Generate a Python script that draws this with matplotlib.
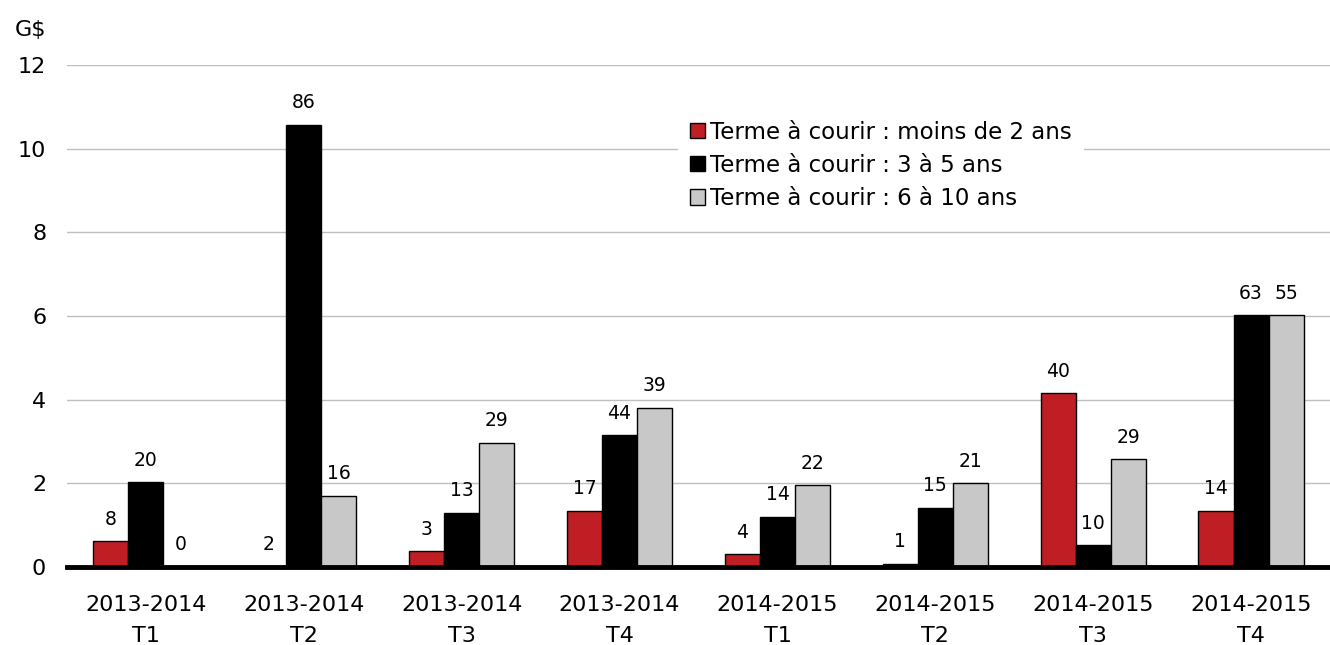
import numpy as np
import matplotlib.pyplot as plt

plt.rcParams['font.family'] = ['DejaVu Sans']

categories = ["2013-2014\nT1", "2013-2014\nT2", "2013-2014\nT3", "2013-2014\nT4",
              "2014-2015\nT1", "2014-2015\nT2", "2014-2015\nT3", "2014-2015\nT4"]

# montants en G$
court = [0.62, 0.02, 0.38, 1.35, 0.30, 0.08, 4.15, 1.35]
moyen = [2.03, 10.57, 1.30, 3.15, 1.20, 1.42, 0.52, 6.02]
long_ = [0.0, 1.70, 2.97, 3.80, 1.95, 2.00, 2.57, 6.02]

# etiquettes au-dessus des barres
lab_court = [8, 2, 3, 17, 4, 1, 40, 14]
lab_moyen = [20, 86, 13, 44, 14, 15, 10, 63]
lab_long = [0, 16, 29, 39, 22, 21, 29, 55]

series = [
    (court, lab_court, "#be1e24", "Terme à courir : moins de 2 ans"),
    (moyen, lab_moyen, "#000000", "Terme à courir : 3 à 5 ans"),
    (long_, lab_long, "#c8c8c8", "Terme à courir : 6 à 10 ans"),
]

fig = plt.figure(figsize=(13.3, 6.45), dpi=100)
ax = fig.add_axes([67/1330, 1 - 567/645, 1263/1330, (567-65)/645])

x = np.arange(len(categories))
w = 0.222
for i, (vals, labs, col, name) in enumerate(series):
    pos = x + (i - 1) * w
    ax.bar(pos, vals, w, color=col, edgecolor="black", linewidth=1, label=name, zorder=3)
    for p, v, l in zip(pos, vals, labs):
        ax.text(p, v + 0.3, str(l), ha="center", va="bottom", fontsize=13.5, zorder=4)

ax.set_xlim(-0.5, len(categories) - 0.5)
ax.set_ylim(0, 12)
ax.set_yticks([0, 2, 4, 6, 8, 10, 12])
ax.yaxis.grid(True, color="#bfbfbf", linewidth=1, zorder=0)
ax.set_axisbelow(True)
for s in ["top", "right", "left"]:
    ax.spines[s].set_visible(False)
ax.spines["bottom"].set_linewidth(3.5)
ax.spines["bottom"].set_zorder(5)
ax.set_xticks(x)
ax.set_xticklabels(categories, fontsize=16, linespacing=1.7)
ax.tick_params(axis="x", length=0, pad=20)
ax.tick_params(axis="y", length=0, labelsize=16, pad=15)

fig.text(15/1330, 1 - 30/645, "G$", fontsize=16, va="center")

leg = ax.legend(loc="upper left", bbox_to_anchor=(0.475, 0.935), fontsize=16.5,
                frameon=True, fancybox=False, edgecolor="none", framealpha=1,
                handlelength=0.65, handleheight=0.65, handletextpad=0.25,
                labelspacing=0.45, borderpad=0.5)

fig.savefig("out.png", dpi=100)
